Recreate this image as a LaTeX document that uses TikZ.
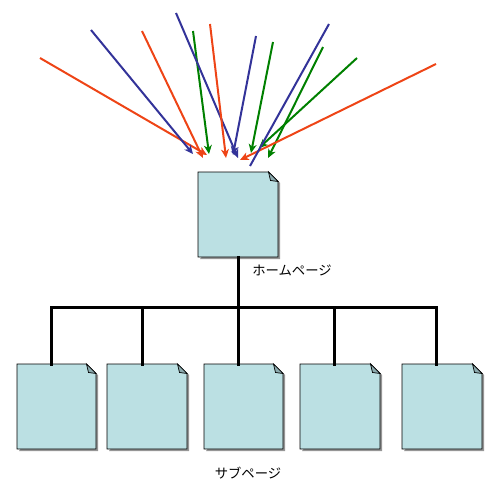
\documentclass[tikz,border=0pt]{standalone}
\usepackage{fontspec}
\newfontfamily\jpfont{Noto Sans CJK JP}
\usetikzlibrary{arrows.meta,fit}
\definecolor{arrorange}{RGB}{238,68,22}
\definecolor{arrblue}{RGB}{51,51,153}
\definecolor{arrgreen}{RGB}{0,128,0}
\definecolor{pagefill}{RGB}{187,224,227}
\definecolor{foldfill}{RGB}{140,170,174}
\definecolor{shadowc}{RGB}{150,150,150}
\tikzset{
  arrowline/.style={line width=0.04cm,-{Stealth[length=5pt,width=4.5pt,inset=1.5pt]}},
  plainline/.style={line width=0.04cm},
  treeline/.style={line width=0.06cm, line cap=rect, black},
  pgface/.style={fill=pagefill, draw=black, line width=0.5pt},
  pgfold/.style={fill=foldfill, draw=black, line width=0.4pt},
  pgshadow/.style={fill=shadowc},
  lbl/.style={font=\jpfont\fontsize{7.6}{9}\selectfont, inner sep=0pt}
}
\newcommand\docpage[3]{%
  \node[inner sep=0pt, outer sep=0pt, fit={#2 #3}] (#1) {};
  \fill[pgshadow] ([xshift=.04cm,yshift=-.04cm]#1.south west) -- ([xshift=.04cm,yshift=-.04cm]#1.south east) -- ([xshift=.04cm,yshift=-.22cm]#1.north east) -- ([xshift=-.14cm,yshift=-.04cm]#1.north east) -- cycle;
  \filldraw[pgface] (#1.north west) -- ([xshift=-.19cm]#1.north east) -- ([yshift=-.19cm]#1.north east) -- (#1.south east) -- (#1.south west) -- cycle;
  \filldraw[pgfold] ([xshift=-.19cm]#1.north east) -- ([xshift=-.15cm,yshift=-.17cm]#1.north east) -- ([yshift=-.19cm]#1.north east) -- cycle;
}
\begin{document}
\begin{tikzpicture}[x=0.02cm,y=-0.02cm]
\useasboundingbox (0,0) rectangle (500,500);
% home page
\docpage{home}{(198,172)}{(278,257)}
\node[lbl] (homelabel) at (292,270) {ホームページ};
% sub pages
\docpage{s1}{(17,364)}{(96,449)}
\docpage{s2}{(107,364)}{(187,449)}
\docpage{s3}{(204,364)}{(283,449)}
\docpage{s4}{(300,364)}{(380,449)}
\docpage{s5}{(402,364)}{(482,449)}
\node[lbl] (sublabel) at (248,473) {サブページ};
% tree
\coordinate (bar) at (238,307);
\coordinate (d1) at (51,364);
\coordinate (d2) at (142,364);
\coordinate (d3) at (238,364);
\coordinate (d4) at (334,364);
\coordinate (d5) at (436,364);
\draw[treeline] (home.south) -- (bar);
\draw[treeline] (d1 |- bar) -- (d5 |- bar);
\foreach \i in {1,...,5} { \draw[treeline] (d\i |- bar) -- (d\i); }
% incoming links
\foreach \n/\c/\sx/\sy/\ex/\ey in {
  1/arrorange/40/58/207/155,
  2/arrblue/91/30/193/154,
  3/arrorange/142/31/203/158,
  4/arrgreen/193/31/209/154,
  5/arrblue/176/13/238/158,
  6/arrorange/210/24/226/158,
  7/arrblue/256/36/233/155,
  8/arrgreen/273/42/251/153,
  10/arrgreen/323/47/268/158,
  11/arrgreen/357/58/259/148,
  12/arrorange/436/64/240/160} {
  \coordinate (a\n s) at (\sx,\sy);
  \coordinate (a\n e) at (\ex,\ey);
  \draw[arrowline,\c] (a\n s) -- (a\n e);
}
\coordinate (a9s) at (329,24);
\coordinate (a9e) at (250,166);
\draw[plainline,arrblue] (a9s) -- (a9e);
\end{tikzpicture}
\end{document}
